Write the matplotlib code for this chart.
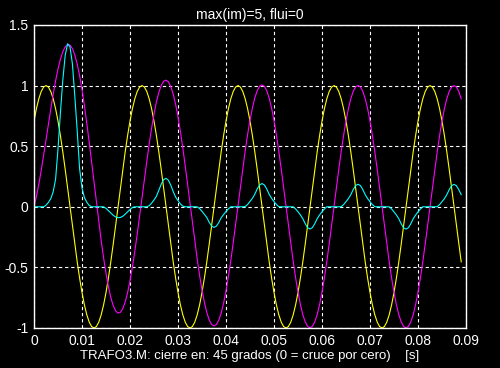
import numpy as np
import matplotlib
matplotlib.use('Agg')
import matplotlib.pyplot as plt

# samples every 0.5 ms
t_step = 0.0005

# voltage (yellow)
tension = [
    0.707, 0.809, 0.891, 0.951, 0.988, 1.0, 0.988, 0.951, 0.891, 0.809,
    0.707, 0.588, 0.454, 0.309, 0.156, 0.0, -0.156, -0.309, -0.454, -0.588,
    -0.707, -0.809, -0.891, -0.951, -0.988, -1.0, -0.988, -0.951, -0.891, -0.809,
    -0.707, -0.588, -0.454, -0.309, -0.156, 0.0, 0.156, 0.309, 0.454, 0.588,
    0.707, 0.809, 0.891, 0.951, 0.988, 1.0, 0.988, 0.951, 0.891, 0.809,
    0.707, 0.588, 0.454, 0.309, 0.156, 0.0, -0.156, -0.309, -0.454, -0.588,
    -0.707, -0.809, -0.891, -0.951, -0.988, -1.0, -0.988, -0.951, -0.891, -0.809,
    -0.707, -0.588, -0.454, -0.309, -0.156, 0.0, 0.156, 0.309, 0.454, 0.588,
    0.707, 0.809, 0.891, 0.951, 0.988, 1.0, 0.988, 0.951, 0.891, 0.809,
    0.707, 0.588, 0.454, 0.309, 0.156, 0.0, -0.156, -0.309, -0.454, -0.588,
    -0.707, -0.809, -0.891, -0.951, -0.988, -1.0, -0.988, -0.951, -0.891, -0.809,
    -0.707, -0.588, -0.454, -0.309, -0.156, 0.0, 0.156, 0.309, 0.454, 0.588,
    0.707, 0.809, 0.891, 0.951, 0.988, 1.0, 0.988, 0.951, 0.891, 0.809,
    0.707, 0.588, 0.454, 0.309, 0.156, 0.0, -0.156, -0.309, -0.454, -0.588,
    -0.707, -0.809, -0.891, -0.951, -0.988, -1.0, -0.988, -0.951, -0.891, -0.809,
    -0.707, -0.588, -0.454, -0.309, -0.156, 0.0, 0.156, 0.309, 0.454, 0.588,
    0.707, 0.809, 0.891, 0.951, 0.988, 1.0, 0.988, 0.951, 0.891, 0.809,
    0.707, 0.588, 0.454, 0.309, 0.156, 0.0, -0.156, -0.309, -0.454,
]

# flux (magenta)
flujo = [
    0.000, 0.084, 0.186, 0.300, 0.423, 0.551, 0.680, 0.807, 0.928, 1.039,
    1.136, 1.217, 1.279, 1.320, 1.339, 1.334, 1.306, 1.253, 1.178, 1.083,
    0.967, 0.835, 0.689, 0.533, 0.369, 0.203, 0.037, -0.126, -0.280, -0.422,
    -0.549, -0.659, -0.748, -0.815, -0.859, -0.877, -0.871, -0.840, -0.785, -0.709,
    -0.611, -0.497, -0.368, -0.227, -0.078, 0.074, 0.227, 0.376, 0.518, 0.649,
    0.765, 0.864, 0.943, 1.001, 1.035, 1.045, 1.031, 0.992, 0.930, 0.846,
    0.742, 0.622, 0.486, 0.339, 0.185, 0.027, -0.130, -0.284, -0.430, -0.566,
    -0.686, -0.789, -0.872, -0.933, -0.971, -0.983, -0.972, -0.936, -0.877, -0.795,
    -0.694, -0.576, -0.442, -0.298, -0.145, 0.010, 0.166, 0.318, 0.463, 0.596,
    0.715, 0.816, 0.898, 0.958, 0.994, 1.006, 0.994, 0.957, 0.896, 0.814,
    0.712, 0.592, 0.458, 0.313, 0.160, 0.004, -0.153, -0.306, -0.451, -0.585,
    -0.704, -0.806, -0.889, -0.949, -0.986, -0.998, -0.986, -0.949, -0.889, -0.807,
    -0.705, -0.586, -0.452, -0.307, -0.155, 0.001, 0.157, 0.310, 0.455, 0.589,
    0.708, 0.810, 0.892, 0.952, 0.989, 1.001, 0.989, 0.952, 0.892, 0.810,
    0.708, 0.589, 0.455, 0.310, 0.157, 0.001, -0.155, -0.308, -0.453, -0.587,
    -0.706, -0.808, -0.890, -0.950, -0.987, -0.999, -0.987, -0.950, -0.890, -0.808,
    -0.706, -0.587, -0.453, -0.308, -0.155, 0.000, 0.156, 0.309, 0.454, 0.588,
    0.707, 0.809, 0.891, 0.951, 0.988, 1.000, 0.988, 0.951, 0.891,
]

# magnetizing current (cyan)
corriente = [
    0, 0, 0, 0, 0, 0.013, 0.036, 0.067, 0.125, 0.228,
    0.478, 0.774, 1.045, 1.250, 1.345, 1.320, 1.180, 0.915, 0.627, 0.314,
    0.155, 0.076, 0.038, 0.011, 0, 0, 0, 0, 0, 0,
    -0.013, -0.032, -0.052, -0.070, -0.084, -0.090, -0.088, -0.078, -0.061, -0.042,
    -0.022, -0.006, 0, 0, 0, 0, 0, 0, 0.009, 0.030,
    0.056, 0.086, 0.135, 0.186, 0.224, 0.235, 0.219, 0.178, 0.126, 0.080,
    0.051, 0.024, 0.005, 0, 0, 0, 0, 0, 0, -0.015,
    -0.037, -0.062, -0.088, -0.128, -0.159, -0.170, -0.160, -0.130, -0.090, -0.064,
    -0.039, -0.017, 0, 0, 0, 0, 0, 0, 0.002, 0.019,
    0.044, 0.070, 0.104, 0.147, 0.180, 0.192, 0.180, 0.146, 0.103, 0.070,
    0.043, 0.019, 0.001, 0, 0, 0, 0, 0, 0, -0.018,
    -0.041, -0.067, -0.098, -0.139, -0.172, -0.183, -0.172, -0.139, -0.098, -0.067,
    -0.041, -0.018, 0, 0, 0, 0, 0, 0, 0.001, 0.018,
    0.042, 0.068, 0.100, 0.142, 0.175, 0.186, 0.175, 0.142, 0.100, 0.068,
    0.042, 0.018, 0.001, 0, 0, 0, 0, 0, 0, -0.018,
    -0.042, -0.068, -0.099, -0.140, -0.173, -0.184, -0.173, -0.140, -0.099, -0.068,
    -0.042, -0.018, 0, 0, 0, 0, 0, 0, 0.001, 0.018,
    0.042, 0.067, 0.100, 0.141, 0.174, 0.185, 0.174, 0.141, 0.100,
]

xticks = [0, 0.01, 0.02, 0.03, 0.04, 0.05, 0.06, 0.07, 0.08, 0.09]
xticklabels = ['0', '0.01', '0.02', '0.03', '0.04', '0.05', '0.06', '0.07', '0.08', '0.09']
yticks = [-1, -0.5, 0, 0.5, 1, 1.5]
yticklabels = ['-1', '-0.5', '0', '0.5', '1', '1.5']

t = np.arange(len(tension)) * t_step

plt.rcParams['font.family'] = ['Liberation Sans', 'DejaVu Sans']

fig = plt.figure(figsize=(5, 3.68), dpi=100, facecolor='black')
ax = fig.add_axes([0.068, 0.1087, 0.864, 0.8234], facecolor='black')

ax.plot(t, tension, color='#ffff00', lw=0.8)
ax.plot(t, flujo, color='#ff00ff', lw=0.8)
ax.plot(t, corriente, color='#00ffff', lw=0.8)

ax.set_xlim(0, 0.09)
ax.set_ylim(-1, 1.5)
ax.set_xticks(xticks)
ax.set_xticklabels(xticklabels)
ax.set_yticks(yticks)
ax.set_yticklabels(yticklabels)
ax.grid(True, color='white', linestyle=(0, (3, 2.5)), lw=0.8)
ax.tick_params(colors='white', labelsize=10, direction='in', length=0)
ax.tick_params(axis='x', pad=4)
ax.tick_params(axis='y', pad=4)
for s in ax.spines.values():
    s.set_color('white')
    s.set_linewidth(1)

ax.set_title('max(im)=5, flui=0', color='white', fontsize=10, pad=4)
ax.set_xlabel('TRAFO3.M: cierre en: 45 grados (0 = cruce por cero)    [s]',
              color='white', fontsize=9.5, labelpad=2)

plt.savefig('out.png', dpi=100, facecolor='black')
